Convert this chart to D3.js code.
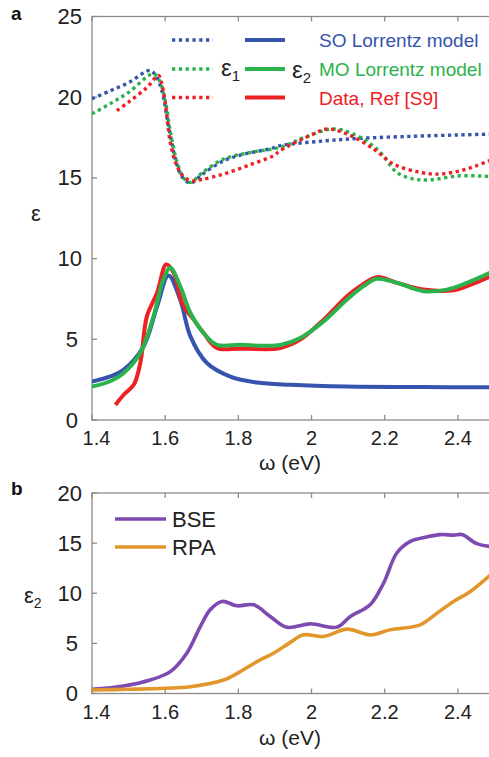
<!DOCTYPE html>
<html>
<head>
<meta charset="utf-8">
<script src="https://cdn.jsdelivr.net/npm/d3@7/dist/d3.min.js"></script>
<style>
  html, body { margin: 0; padding: 0; background: #fff; }
  svg { display: block; }
  text { font-family: "Liberation Sans", Arial, Helvetica, sans-serif; }
</style>
</head>
<body>
<svg id="chart" width="489" height="757"></svg>
<script>
// ---- Data: photon energy (eV) and dielectric function ----
const xTicks = [1.4, 1.6, 1.8, 2, 2.2, 2.4];
const yTicksA = [0, 5, 10, 15, 20, 25];
const yTicksB = [0, 5, 10, 15, 20];

// Panel a, real part eps1 (dotted)
const soEps1 = [[1.4,19.9],[1.45,20.4],[1.5,20.9],[1.559,21.66],[1.575,21.3],[1.591,20.4],[1.609,18.24],[1.628,16.17],[1.645,15.1],[1.669,14.68],[1.7,15.2],[1.76,16.06],[1.82,16.5],[1.887,16.8],[1.915,17.0],[2.024,17.27],[2.133,17.45],[2.278,17.58],[2.4,17.66],[2.5,17.72]];
const moEps1 = [[1.4,18.97],[1.45,19.6],[1.5,20.3],[1.568,21.45],[1.585,21.0],[1.6,19.8],[1.614,17.9],[1.632,16.0],[1.65,15.0],[1.669,14.72],[1.7,15.3],[1.76,16.17],[1.84,16.6],[1.915,16.9],[1.98,17.5],[2.06,18.03],[2.133,17.52],[2.188,16.58],[2.233,15.34],[2.279,14.93],[2.324,14.88],[2.406,15.13],[2.5,15.07]];
const dataEps1 = [[1.468,19.17],[1.5,19.7],[1.55,20.6],[1.582,21.35],[1.59,20.9],[1.6,19.7],[1.614,17.2],[1.632,15.75],[1.65,15.1],[1.672,14.82],[1.7,14.9],[1.76,15.24],[1.83,15.8],[1.896,16.38],[1.914,16.69],[2.005,17.72],[2.042,18.03],[2.097,17.72],[2.17,16.79],[2.224,15.86],[2.297,15.34],[2.352,15.24],[2.406,15.44],[2.45,15.75],[2.5,16.2]];

// Panel a, imaginary part eps2 (solid)
const soEps2 = [[1.4,2.38],[1.45,2.7],[1.486,3.11],[1.541,4.56],[1.578,7.05],[1.609,8.96],[1.641,7.46],[1.669,5.18],[1.714,3.53],[1.778,2.69],[1.851,2.32],[1.942,2.18],[2.097,2.07],[2.3,2.04],[2.5,2.02]];
const moEps2 = [[1.4,2.07],[1.45,2.4],[1.486,2.9],[1.532,4.15],[1.568,6.42],[1.595,8.7],[1.614,9.43],[1.641,8.29],[1.669,6.63],[1.705,5.39],[1.741,4.66],[1.805,4.66],[1.869,4.6],[1.915,4.65],[1.969,5.08],[2.033,6.11],[2.097,7.46],[2.142,8.29],[2.178,8.75],[2.233,8.5],[2.306,7.98],[2.37,8.08],[2.425,8.5],[2.5,9.25]];
const dataEps2 = [[1.464,0.93],[1.486,1.55],[1.514,2.18],[1.532,3.53],[1.55,6.42],[1.578,7.88],[1.603,9.64],[1.623,9.12],[1.65,7.05],[1.678,6.22],[1.705,5.39],[1.741,4.46],[1.805,4.42],[1.896,4.4],[1.915,4.46],[1.969,4.98],[2.033,6.22],[2.097,7.67],[2.133,8.29],[2.178,8.85],[2.233,8.5],[2.306,8.08],[2.388,8.04],[2.425,8.29],[2.5,9.0]];

// Panel b, eps2 from BSE and RPA
const bse = [[1.4,0.42],[1.486,0.75],[1.559,1.35],[1.614,2.18],[1.659,4.02],[1.696,6.68],[1.723,8.35],[1.755,9.18],[1.796,8.75],[1.842,8.85],[1.887,7.68],[1.933,6.6],[1.996,6.95],[2.069,6.62],[2.106,7.68],[2.16,8.85],[2.197,11.02],[2.233,14.02],[2.27,15.18],[2.315,15.62],[2.352,15.85],[2.388,15.8],[2.411,15.85],[2.452,14.95],[2.5,14.6]];
const rpa = [[1.4,0.35],[1.5,0.42],[1.6,0.52],[1.669,0.68],[1.76,1.35],[1.805,2.18],[1.851,3.18],[1.896,4.02],[1.942,5.1],[1.978,5.85],[2.033,5.68],[2.097,6.42],[2.16,5.85],[2.215,6.35],[2.297,6.85],[2.343,8.02],[2.388,9.18],[2.434,10.18],[2.5,12.2]];

const colors = { so: "#3653ad", mo: "#2bb24c", data: "#ed2024", bse: "#7d4ab0", rpa: "#e2972c" };
const axisColor = "#8a8a8a";
const textColor = "#222";

const svg = d3.select("#chart");

// Shared horizontal scale
const x = d3.scaleLinear().domain([1.4, 2.5]).range([92, 494.5]);

function frame(g, y, yTicks, top, bottom, id) {
  const left = x.range()[0], right = x.range()[1];
  // outline and inward ticks
  g.append("rect").attr("x", left).attr("y", top).attr("width", right - left).attr("height", bottom - top)
    .attr("fill", "none").attr("stroke", axisColor).attr("stroke-width", 1.3);
  xTicks.forEach((t, i) => {
    g.append("line").attr("x1", x(t)).attr("x2", x(t)).attr("y1", bottom).attr("y2", bottom - 5)
      .attr("stroke", axisColor).attr("stroke-width", 1.3);
    g.append("line").attr("x1", x(t)).attr("x2", x(t)).attr("y1", top).attr("y2", top + 5)
      .attr("stroke", axisColor).attr("stroke-width", 1.3);
    // first label nudged right to clear the vertical axis labels
    g.append("text").attr("x", x(t) + (i === 0 ? 4.5 : 0)).attr("y", bottom + 25).attr("text-anchor", "middle")
      .attr("font-size", 20).attr("fill", textColor).text(d3.format("~g")(t));
  });
  yTicks.forEach(t => {
    g.append("line").attr("x1", left).attr("x2", left + 5).attr("y1", y(t)).attr("y2", y(t))
      .attr("stroke", axisColor).attr("stroke-width", 1.3);
    g.append("line").attr("x1", right).attr("x2", right - 5).attr("y1", y(t)).attr("y2", y(t))
      .attr("stroke", axisColor).attr("stroke-width", 1.3);
    g.append("text").attr("x", t < 10 ? left - 14 : left - 10).attr("y", y(t) + 7.5).attr("text-anchor", "end")
      .attr("font-size", 22).attr("fill", textColor).text(t);
  });
  svg.append("clipPath").attr("id", id).append("rect")
    .attr("x", left).attr("y", top).attr("width", right - left).attr("height", bottom - top);
}

const line = y => d3.line().x(d => x(d[0])).y(d => y(d[1])).curve(d3.curveCatmullRom.alpha(0.5));

// ---------------- Panel a ----------------
const yA = d3.scaleLinear().domain([0, 25]).range([420, 16.5]);
const gA = svg.append("g");
frame(gA, yA, yTicksA, 16.5, 420, "clipA");

const curvesA = gA.append("g").attr("clip-path", "url(#clipA)");
const dotted = "3.3,3.5";
[[soEps1, colors.so], [moEps1, colors.mo], [dataEps1, colors.data]].forEach(([d, c]) => {
  curvesA.append("path").datum(d).attr("d", line(yA)).attr("fill", "none")
    .attr("stroke", c).attr("stroke-width", 3.4).attr("stroke-dasharray", dotted);
});
[[soEps2, colors.so], [dataEps2, colors.data], [moEps2, colors.mo]].forEach(([d, c]) => {
  curvesA.append("path").datum(d).attr("d", line(yA)).attr("fill", "none")
    .attr("stroke", c).attr("stroke-width", 4).attr("stroke-linejoin", "round");
});

// legend a
const legA = [["SO Lorrentz model", colors.so, 40], ["MO Lorrentz model", colors.mo, 69], ["Data, Ref [S9]", colors.data, 97.5]];
legA.forEach(([label, c, yy]) => {
  gA.append("line").attr("x1", 172).attr("x2", 213).attr("y1", yy).attr("y2", yy)
    .attr("stroke", c).attr("stroke-width", 3.4).attr("stroke-dasharray", dotted);
  gA.append("line").attr("x1", 245).attr("x2", 285).attr("y1", yy).attr("y2", yy)
    .attr("stroke", c).attr("stroke-width", 4);
  gA.append("text").attr("x", 319).attr("y", yy + 7).attr("font-size", 19).attr("fill", c).text(label);
});
const eps1 = gA.append("text").attr("x", 221).attr("y", 76).attr("font-family", "Liberation Serif, Times New Roman, serif")
  .attr("font-size", 24).attr("fill", textColor);
eps1.append("tspan").text("ε");
eps1.append("tspan").attr("font-size", 15).attr("dy", 5).text("1");
const eps2 = gA.append("text").attr("x", 292).attr("y", 78).attr("font-family", "Liberation Serif, Times New Roman, serif")
  .attr("font-size", 24).attr("fill", textColor);
eps2.append("tspan").text("ε");
eps2.append("tspan").attr("font-size", 15).attr("dy", 5).text("2");

gA.append("text").attr("x", 36).attr("y", 221).attr("text-anchor", "middle")
  .attr("font-family", "Liberation Serif, Times New Roman, serif").attr("font-size", 22).attr("fill", textColor).text("ε");
gA.append("text").attr("x", 290).attr("y", 470).attr("text-anchor", "middle").attr("font-size", 21)
  .attr("fill", textColor).text("ω (eV)");
gA.append("text").attr("x", 11).attr("y", 20).attr("font-size", 19).attr("font-weight", "bold")
  .attr("fill", "#111").text("a");

// ---------------- Panel b ----------------
const yB = d3.scaleLinear().domain([0, 20]).range([693.5, 493]);
const gB = svg.append("g");
frame(gB, yB, yTicksB, 493, 693.5, "clipB");

const curvesB = gB.append("g").attr("clip-path", "url(#clipB)");
[[bse, colors.bse], [rpa, colors.rpa]].forEach(([d, c]) => {
  curvesB.append("path").datum(d).attr("d", line(yB)).attr("fill", "none")
    .attr("stroke", c).attr("stroke-width", 3.6).attr("stroke-linejoin", "round");
});

const legB = [["BSE", colors.bse, 519], ["RPA", colors.rpa, 547]];
legB.forEach(([label, c, yy]) => {
  gB.append("line").attr("x1", 115).attr("x2", 166).attr("y1", yy).attr("y2", yy)
    .attr("stroke", c).attr("stroke-width", 3.6);
  gB.append("text").attr("x", 172).attr("y", yy + 8).attr("font-size", 22).attr("fill", textColor).text(label);
});

const eB = gB.append("text").attr("x", 24).attr("y", 603).attr("font-family", "Liberation Serif, Times New Roman, serif")
  .attr("font-size", 22).attr("fill", textColor);
eB.append("tspan").text("ε");
eB.append("tspan").attr("font-size", 14).attr("dy", 5).text("2");
gB.append("text").attr("x", 290).attr("y", 745).attr("text-anchor", "middle").attr("font-size", 21)
  .attr("fill", textColor).text("ω (eV)");
gB.append("text").attr("x", 11).attr("y", 495).attr("font-size", 19).attr("font-weight", "bold")
  .attr("fill", "#111").text("b");
</script>
</body>
</html>
